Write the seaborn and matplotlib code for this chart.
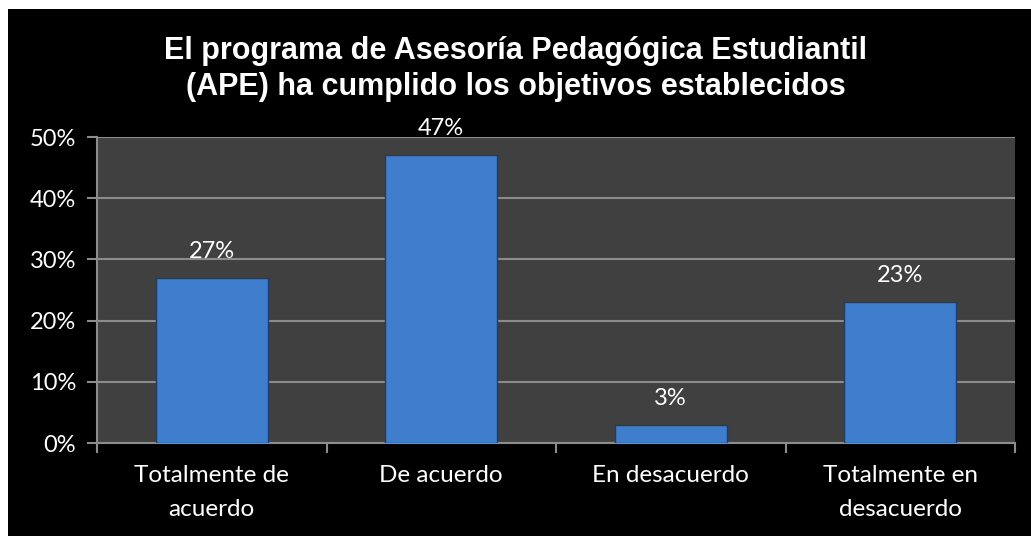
import matplotlib
matplotlib.use("Agg")
import matplotlib.pyplot as plt
import seaborn as sns
import pandas as pd
from matplotlib.patches import Rectangle
from matplotlib.ticker import PercentFormatter, FixedLocator

# Data
categories = ['Totalmente de\nacuerdo', 'De acuerdo', 'En desacuerdo', 'Totalmente en\ndesacuerdo']
values = [0.27, 0.47, 0.03, 0.23]
labels = ['27%', '47%', '3%', '23%']

df = pd.DataFrame({'Respuesta': categories, 'Porcentaje': values})

sns.set_style('dark')
plt.rcParams['font.family'] = ['Lato', 'DejaVu Sans']

fig = plt.figure(figsize=(10.31, 5.36), dpi=100)
fig.patch.set_facecolor('white')
# black chart area with a thin white margin on the top and left
fig.patches.append(Rectangle((8 / 1031, 0), 1, 1 - 9 / 536, transform=fig.transFigure,
                             facecolor='black', edgecolor='none', zorder=-10))

ax = fig.add_axes([97 / 1031, 1 - 443 / 536, (1015 - 97) / 1031, (443 - 137) / 536])
ax.set_facecolor('#404040')

sns.barplot(data=df, x='Respuesta', y='Porcentaje', ax=ax, width=0.49,
            color='#3f7ecc', edgecolor='#1d3c66', linewidth=1, saturation=1, zorder=3)

for i, (v, lab) in enumerate(zip(values, labels)):
    ax.annotate(lab, (i, v), xytext=(0, 19), textcoords='offset points',
                ha='center', va='center', color='white', fontsize=17)

ax.set_ylim(0, 0.5)
ax.set_xlim(-0.5, 3.5)
ax.yaxis.set_major_locator(FixedLocator([0, 0.1, 0.2, 0.3, 0.4, 0.5]))
ax.yaxis.set_major_formatter(PercentFormatter(1.0, decimals=0))
ax.grid(axis='y', color='#8c8c8c', linewidth=1.5, zorder=0)
ax.grid(axis='x', visible=False)
ax.set_axisbelow(True)

ax.set_xlabel('')
ax.set_ylabel('')
ax.tick_params(axis='y', colors='#8c8c8c', labelcolor='white', labelsize=17,
               length=7, width=1.5, direction='out', left=True, pad=8)
ax.tick_params(axis='x', which='major', length=0, labelcolor='white', labelsize=17.5, pad=16)
for t in ax.get_xticklabels():
    t.set_linespacing(1.75)
ax.set_xticks([-0.5, 0.5, 1.5, 2.5, 3.5], minor=True)
ax.tick_params(axis='x', which='minor', length=7, width=1.5, colors='#8c8c8c', bottom=True)

for side in ['top', 'right']:
    ax.spines[side].set_visible(False)
for side in ['left', 'bottom']:
    ax.spines[side].set_visible(True)
    ax.spines[side].set_color('#8c8c8c')
    ax.spines[side].set_linewidth(1.5)

fig.text(0.5, 1 - 69 / 536,
         'El programa de Asesoría Pedagógica Estudiantil\n(APE) ha cumplido los objetivos establecidos',
         ha='center', va='center', color='white', fontsize=22, fontweight='bold',
         family=['Liberation Sans', 'DejaVu Sans'], linespacing=1.3)

fig.savefig('out.png', dpi=100, facecolor=fig.get_facecolor())
